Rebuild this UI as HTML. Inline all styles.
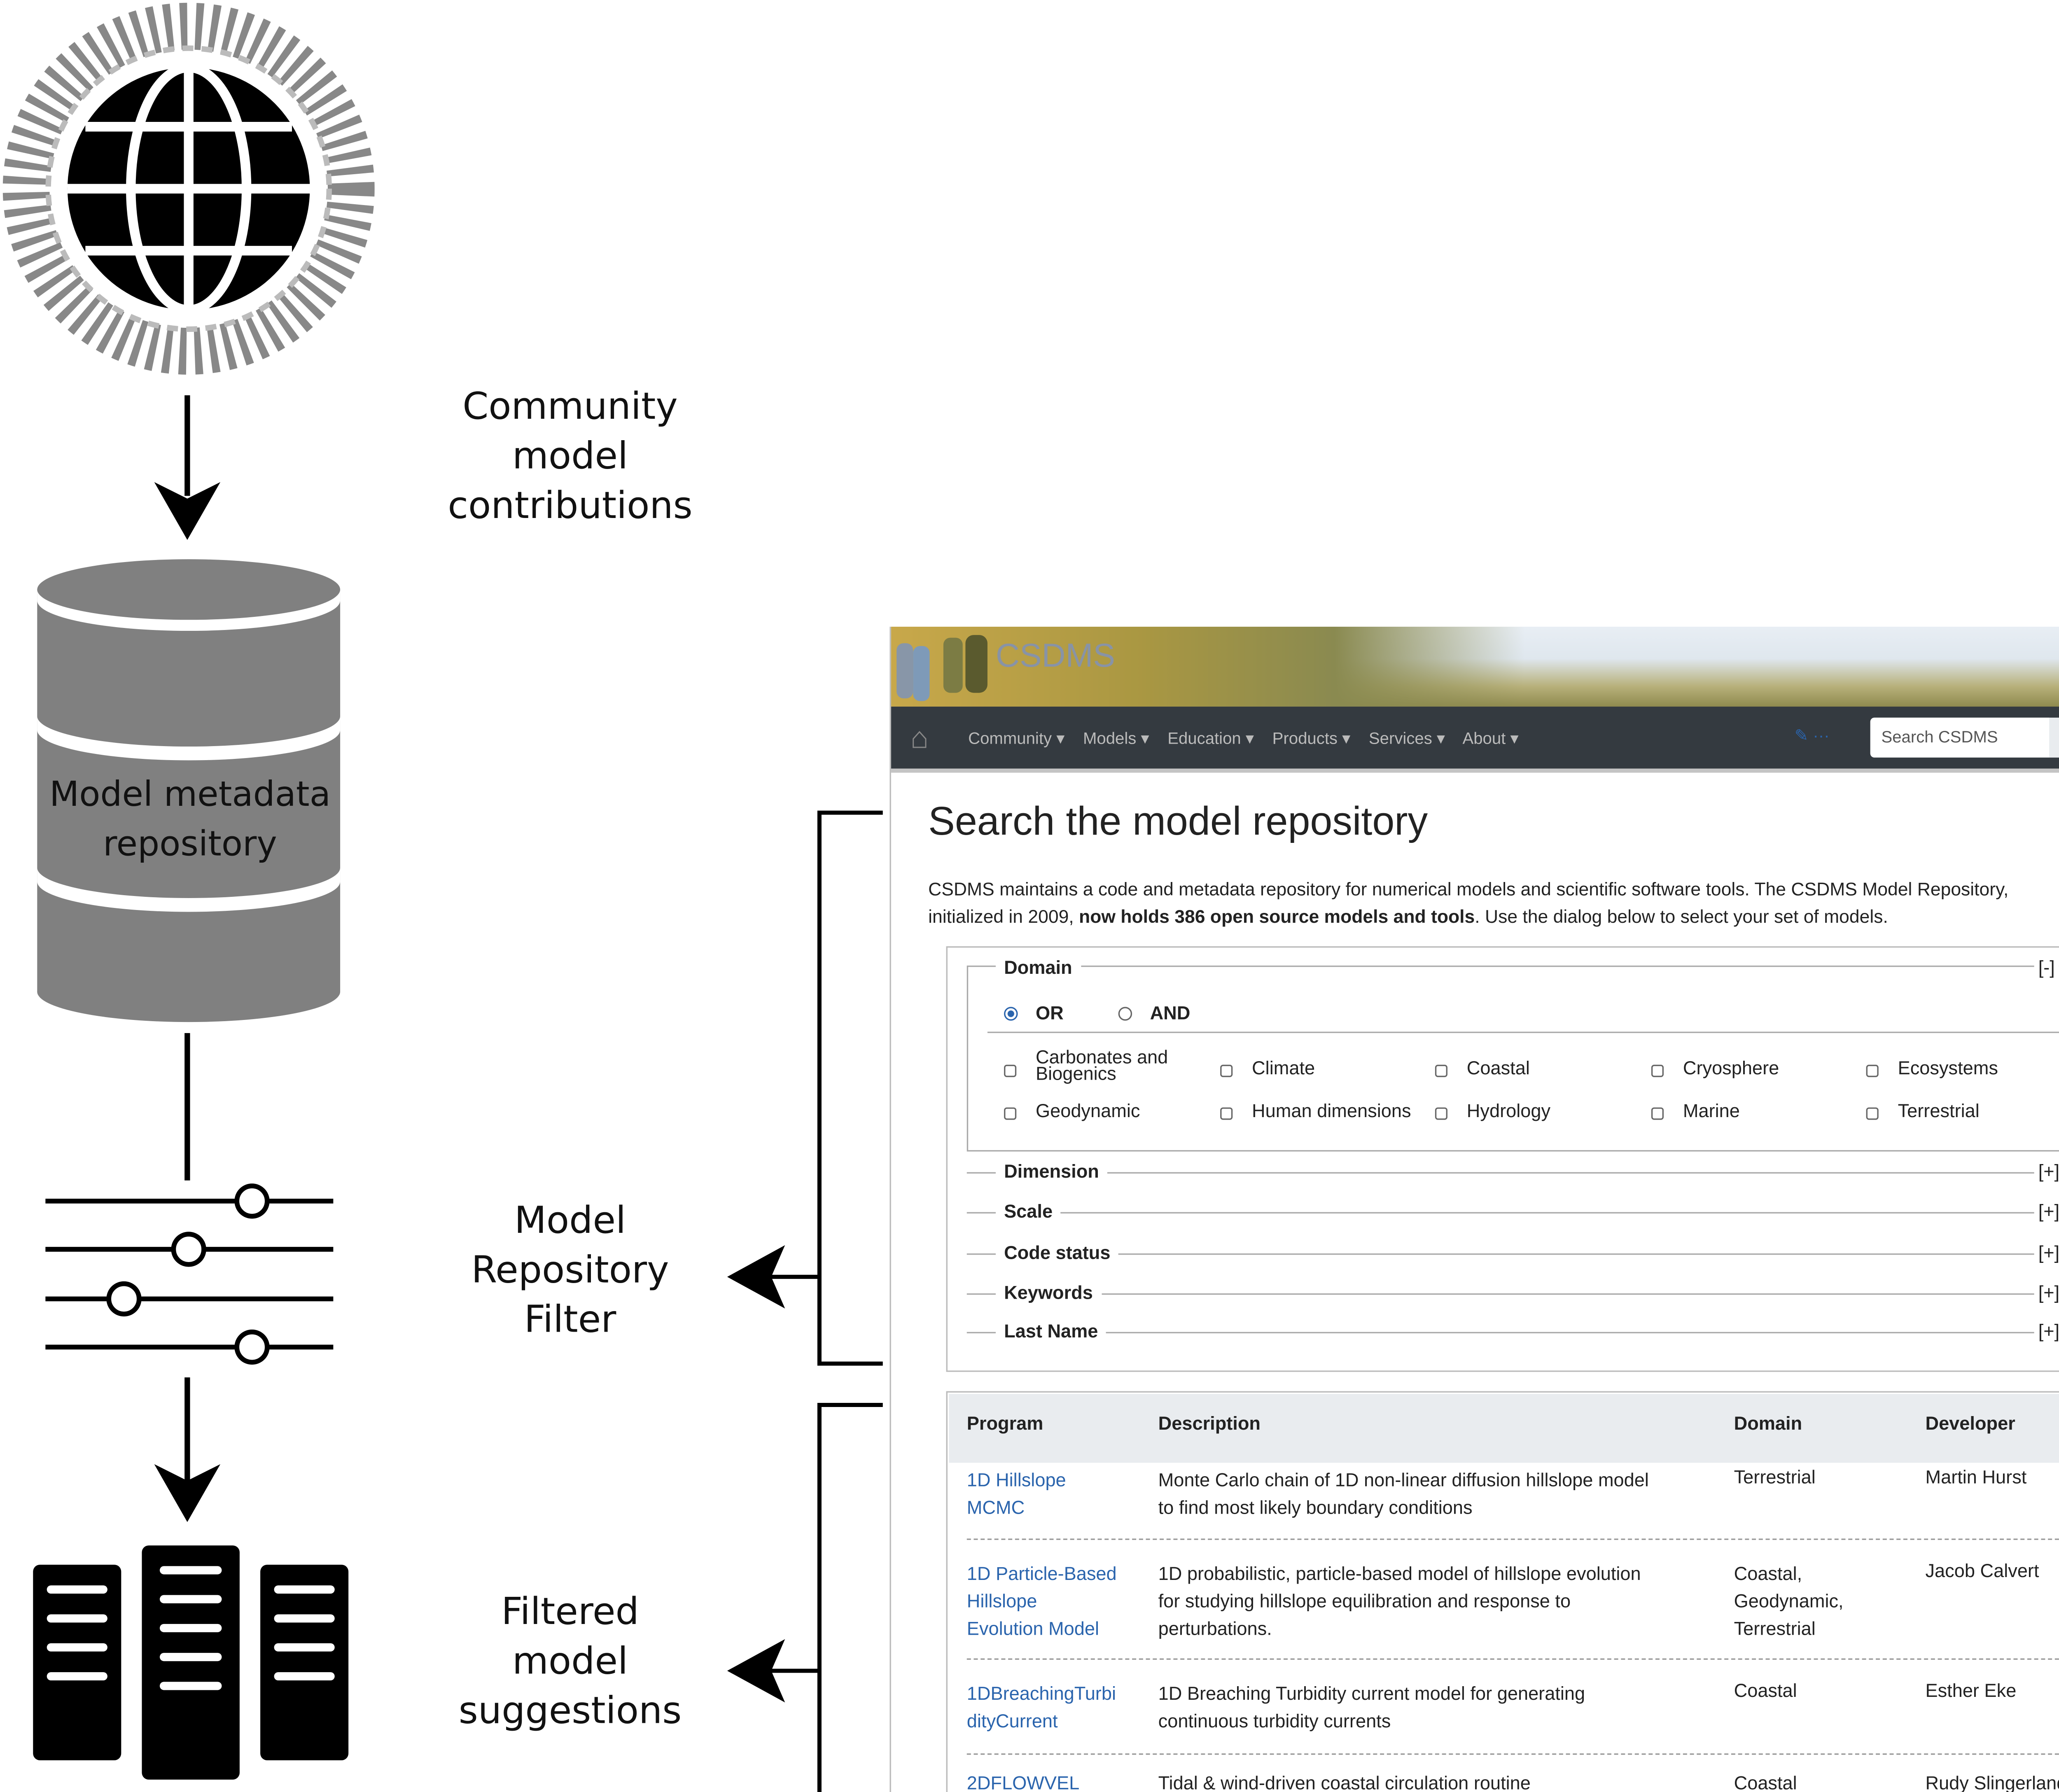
<!DOCTYPE html>
<html><head><meta charset="utf-8"><style>
*{margin:0;padding:0;box-sizing:border-box}
html,body{width:5244px;height:4352px;overflow:hidden;background:#fff}
#s{position:absolute;left:0;top:0;width:1568px;height:1301px;transform:scale(3.3444,3.3451);transform-origin:0 0;font-family:"Liberation Sans",sans-serif}
.a{position:absolute}
.lbl{position:absolute;width:240px;text-align:center;font-size:27px;line-height:36px;color:#111;font-family:"DejaVu Sans","Liberation Sans",sans-serif}
.w{position:absolute;font-size:13.5px;color:#222}
.b{font-weight:bold}
.cb{position:absolute;width:9px;height:9px;border:1px solid #666;border-radius:2px}
.ln{position:absolute;height:1px;background:#aaa}
.lk{color:#2a64ad}
</style></head><body><div id="s">
<svg class="a" style="left:0;top:0" width="645" height="1301">
 <circle cx="137" cy="137" r="118" fill="none" stroke="#888" stroke-width="34" stroke-dasharray="5 6"/>
 <circle cx="137" cy="137" r="102" fill="none" stroke="#bbb" stroke-width="4" stroke-dasharray="8 6"/>
 <circle cx="137" cy="137" r="92" fill="#fff"/>
 <circle cx="137" cy="137" r="88" fill="#000"/>
 <g stroke="#fff" stroke-width="7" fill="none">
  <ellipse cx="137" cy="137" rx="42" ry="88"/>
  <line x1="137" y1="49" x2="137" y2="225"/>
  <line x1="49" y1="137" x2="225" y2="137"/>
  <line x1="62" y1="92" x2="212" y2="92"/>
  <line x1="62" y1="182" x2="212" y2="182"/>
 </g>
 <line x1="136" y1="287" x2="136" y2="360" stroke="#000" stroke-width="4"/>
 <polygon points="112,350 136,392 160,350 136,362" fill="#000"/>
 <rect x="27" y="428" width="220" height="292" fill="#808080"/>
 <ellipse cx="137" cy="720" rx="110" ry="22" fill="#808080"/>
 <path d="M27 520 A110 22 0 0 0 247 520 L247 530 A110 22 0 0 1 27 530Z" fill="#fff"/>
 <path d="M27 630 A110 22 0 0 0 247 630 L247 640 A110 22 0 0 1 27 640Z" fill="#fff"/>
 <ellipse cx="137" cy="428" rx="110" ry="22" fill="#808080"/>
 <path d="M27 428 A110 22 0 0 0 247 428 L247 436 A110 22 0 0 1 27 436Z" fill="#fff"/>
 <line x1="136" y1="750" x2="136" y2="857" stroke="#000" stroke-width="4"/>
 <g stroke="#000" stroke-width="3.5">
  <line x1="33" y1="872" x2="242" y2="872"/><line x1="33" y1="907" x2="242" y2="907"/>
  <line x1="33" y1="943" x2="242" y2="943"/><line x1="33" y1="978" x2="242" y2="978"/>
  <circle cx="183" cy="872" r="11" fill="#fff"/><circle cx="137" cy="907" r="11" fill="#fff"/>
  <circle cx="90" cy="943" r="11" fill="#fff"/><circle cx="183" cy="978" r="11" fill="#fff"/>
 </g>
 <line x1="136" y1="1000" x2="136" y2="1075" stroke="#000" stroke-width="4"/>
 <polygon points="112,1063 136,1105 160,1063 136,1075" fill="#000"/>
 <rect x="24" y="1136" width="64" height="142" rx="5" fill="#000"/>
 <rect x="103" y="1122" width="71" height="170" rx="5" fill="#000"/>
 <rect x="189" y="1136" width="64" height="142" rx="5" fill="#000"/>
 <g stroke="#fff" stroke-width="6" stroke-linecap="round">
  <line x1="37" y1="1154" x2="75" y2="1154"/><line x1="37" y1="1175" x2="75" y2="1175"/><line x1="37" y1="1196" x2="75" y2="1196"/><line x1="37" y1="1217" x2="75" y2="1217"/>
  <line x1="119" y1="1140" x2="158" y2="1140"/><line x1="119" y1="1161" x2="158" y2="1161"/><line x1="119" y1="1182" x2="158" y2="1182"/><line x1="119" y1="1203" x2="158" y2="1203"/><line x1="119" y1="1224" x2="158" y2="1224"/>
  <line x1="202" y1="1154" x2="240" y2="1154"/><line x1="202" y1="1175" x2="240" y2="1175"/><line x1="202" y1="1196" x2="240" y2="1196"/><line x1="202" y1="1217" x2="240" y2="1217"/>
 </g>
 <g stroke="#000" stroke-width="3" fill="none">
  <polyline points="641,590 595,590 595,990 641,990"/>
  <polyline points="641,1020 595,1020 595,1301"/>
  <line x1="595" y1="927" x2="555" y2="927"/>
  <line x1="595" y1="1213" x2="555" y2="1213"/>
 </g>
 <polygon points="528,927 570,904 560,927 570,950" fill="#000"/>
 <polygon points="528,1213 570,1190 560,1213 570,1236" fill="#000"/>
</svg>
<div class="lbl" style="left:294px;top:278px">Community<br>model<br>contributions</div>
<div class="lbl" style="left:18px;top:559px;width:240px;font-size:25px">Model metadata<br>repository</div>
<div class="lbl" style="left:294px;top:869px">Model<br>Repository<br>Filter</div>
<div class="lbl" style="left:294px;top:1153px">Filtered<br>model<br>suggestions</div>

<div class="a" style="left:646px;top:455px;width:922px;height:846px;border-left:1px solid #bbb;overflow:hidden">
 <div class="a" style="left:0;top:0;width:922px;height:58px;background:linear-gradient(180deg,#e8eef4 0%,#dfe7ee 40%,#b7b07a 75%,#8f8a4e 100%)"></div>
 <div class="a" style="left:0;top:0;width:460px;height:58px;background:linear-gradient(90deg,#c8a84a,#a99742 40%,#8a8a50 70%,rgba(200,210,220,0) 100%)"></div>
 <div class="a" style="left:4px;top:12px;width:12px;height:40px;background:#8896a8;border-radius:5px"></div>
 <div class="a" style="left:16px;top:14px;width:12px;height:40px;background:#7e9ab8;border-radius:5px"></div>
 <div class="a" style="left:38px;top:8px;width:14px;height:40px;background:#7c7c44;border-radius:5px"></div>
 <div class="a" style="left:54px;top:6px;width:16px;height:42px;background:#5a5a2e;border-radius:6px"></div>
 <div class="a" style="left:76px;top:8px;font-size:24px;color:#8893a6">CSDMS</div>
 <div class="a" style="left:0;top:58px;width:922px;height:45px;background:#343a40"></div>
 <div class="a" style="left:14px;top:68px;font-size:22px;color:#888">⌂</div>
 <div class="a" style="left:56px;top:74px;font-size:12px;color:#bbb;word-spacing:0">Community ▾&nbsp;&nbsp;&nbsp; Models ▾&nbsp;&nbsp;&nbsp; Education ▾&nbsp;&nbsp;&nbsp; Products ▾&nbsp;&nbsp;&nbsp; Services ▾&nbsp;&nbsp;&nbsp; About ▾</div>
 <div class="a" style="left:656px;top:72px;font-size:12px;color:#2a64ad">✎ ···</div>
 <div class="a" style="left:711px;top:66px;width:130px;height:29px;background:#fff;border-radius:3px 0 0 3px;font-size:12px;color:#555;padding:7px 8px">Search CSDMS</div>
 <div class="a" style="left:841px;top:66px;width:25px;height:29px;background:#e9ecef;color:#2a64ad;font-size:13px;padding:6px 6px">⚲</div>
 <div class="a" style="left:886px;top:72px;width:6px;height:14px;background:#2a64ad;border-radius:3px"></div>
 <div class="a" style="left:0;top:103px;width:922px;height:3px;background:#c4c4c4"></div>
 <div class="a" style="left:27px;top:126px;font-size:29px;color:#222;font-weight:500">Search the model repository</div>
 <div class="w" style="left:27px;top:181px;line-height:20px;font-size:13.3px">CSDMS maintains a code and metadata repository for numerical models and scientific software tools. The CSDMS Model Repository,<br>initialized in 2009, <b>now holds 386 open source models and tools</b>. Use the dialog below to select your set of models.</div>
 <div class="a" style="left:40px;top:232px;width:842px;height:309px;border:1.5px solid #bbb"></div>
 <div class="a" style="left:55px;top:246px;width:811px;height:135px;border:1.5px solid #aaa"></div>
 <div class="w b" style="left:76px;top:240px;background:#fff;padding:0 6px;left:76px">Domain</div>
 <div class="w" style="left:830px;top:240px;background:#fff;padding:0 3px">[-]</div>
 <div class="a" style="left:82px;top:276px;width:10px;height:10px;border-radius:50%;border:1px solid #2a64ad;background:radial-gradient(#2a64ad 40%,#fff 45%)"></div>
 <div class="w b" style="left:105px;top:273px">OR</div>
 <div class="a" style="left:165px;top:276px;width:10px;height:10px;border-radius:50%;border:1px solid #666"></div>
 <div class="w b" style="left:188px;top:273px">AND</div>
 <div class="ln" style="left:70px;top:294px;width:781px"></div>
 <div class="cb" style="left:82px;top:318px"></div><div class="w" style="left:105px;top:307px;line-height:12px">Carbonates and<br>Biogenics</div>
 <div class="cb" style="left:239px;top:318px"></div><div class="w" style="left:262px;top:313px">Climate</div>
 <div class="cb" style="left:395px;top:318px"></div><div class="w" style="left:418px;top:313px">Coastal</div>
 <div class="cb" style="left:552px;top:318px"></div><div class="w" style="left:575px;top:313px">Cryosphere</div>
 <div class="cb" style="left:708px;top:318px"></div><div class="w" style="left:731px;top:313px">Ecosystems</div>
 <div class="cb" style="left:82px;top:349px"></div><div class="w" style="left:105px;top:344px">Geodynamic</div>
 <div class="cb" style="left:239px;top:349px"></div><div class="w" style="left:262px;top:344px">Human dimensions</div>
 <div class="cb" style="left:395px;top:349px"></div><div class="w" style="left:418px;top:344px">Hydrology</div>
 <div class="cb" style="left:552px;top:349px"></div><div class="w" style="left:575px;top:344px">Marine</div>
 <div class="cb" style="left:708px;top:349px"></div><div class="w" style="left:731px;top:344px">Terrestrial</div>

 <div class="ln" style="left:55px;top:396px;width:811px"></div><div class="w b" style="left:76px;top:388px;background:#fff;padding:0 6px">Dimension</div><div class="w" style="left:830px;top:388px;background:#fff;padding:0 3px">[+]</div>
 <div class="ln" style="left:55px;top:425px;width:811px"></div><div class="w b" style="left:76px;top:417px;background:#fff;padding:0 6px">Scale</div><div class="w" style="left:830px;top:417px;background:#fff;padding:0 3px">[+]</div>
 <div class="ln" style="left:55px;top:455px;width:811px"></div><div class="w b" style="left:76px;top:447px;background:#fff;padding:0 6px">Code status</div><div class="w" style="left:830px;top:447px;background:#fff;padding:0 3px">[+]</div>
 <div class="ln" style="left:55px;top:484px;width:811px"></div><div class="w b" style="left:76px;top:476px;background:#fff;padding:0 6px">Keywords</div><div class="w" style="left:830px;top:476px;background:#fff;padding:0 3px">[+]</div>
 <div class="ln" style="left:55px;top:512px;width:811px"></div><div class="w b" style="left:76px;top:504px;background:#fff;padding:0 6px">Last Name</div><div class="w" style="left:830px;top:504px;background:#fff;padding:0 3px">[+]</div>

 <div class="a" style="left:40px;top:555px;width:842px;height:320px;border:1.5px solid #bbb"></div>
 <div class="a" style="left:42px;top:557px;width:838px;height:50px;background:#e9ecef"></div>
 <div class="w b" style="left:55px;top:571px">Program</div><div class="w b" style="left:194px;top:571px">Description</div><div class="w b" style="left:612px;top:571px">Domain</div><div class="w b" style="left:751px;top:571px">Developer</div>
 <div class="w lk" style="left:55px;top:610px;line-height:20px">1D Hillslope<br>MCMC</div>
 <div class="w" style="left:194px;top:610px;line-height:20px">Monte Carlo chain of 1D non-linear diffusion hillslope model<br>to find most likely boundary conditions</div>
 <div class="w" style="left:612px;top:610px">Terrestrial</div><div class="w" style="left:751px;top:610px">Martin Hurst</div>
 <div class="a" style="left:55px;top:662px;width:808px;border-top:1px dashed #999"></div>
 <div class="w lk" style="left:55px;top:678px;line-height:20px">1D Particle-Based<br>Hillslope<br>Evolution Model</div>
 <div class="w" style="left:194px;top:678px;line-height:20px">1D probabilistic, particle-based model of hillslope evolution<br>for studying hillslope equilibration and response to<br>perturbations.</div>
 <div class="w" style="left:612px;top:678px;line-height:20px">Coastal,<br>Geodynamic,<br>Terrestrial</div><div class="w" style="left:751px;top:678px">Jacob Calvert</div>
 <div class="a" style="left:55px;top:749px;width:808px;border-top:1px dashed #999"></div>
 <div class="w lk" style="left:55px;top:765px;line-height:20px">1DBreachingTurbi<br>dityCurrent</div>
 <div class="w" style="left:194px;top:765px;line-height:20px">1D Breaching Turbidity current model for generating<br>continuous turbidity currents</div>
 <div class="w" style="left:612px;top:765px">Coastal</div><div class="w" style="left:751px;top:765px">Esther Eke</div>
 <div class="a" style="left:55px;top:818px;width:808px;border-top:1px dashed #999"></div>
 <div class="w lk" style="left:55px;top:832px">2DFLOWVEL</div>
 <div class="w" style="left:194px;top:832px">Tidal &amp; wind-driven coastal circulation routine</div>
 <div class="w" style="left:612px;top:832px">Coastal</div><div class="w" style="left:751px;top:832px">Rudy Slingerland</div>
</div>
</div></body></html>
